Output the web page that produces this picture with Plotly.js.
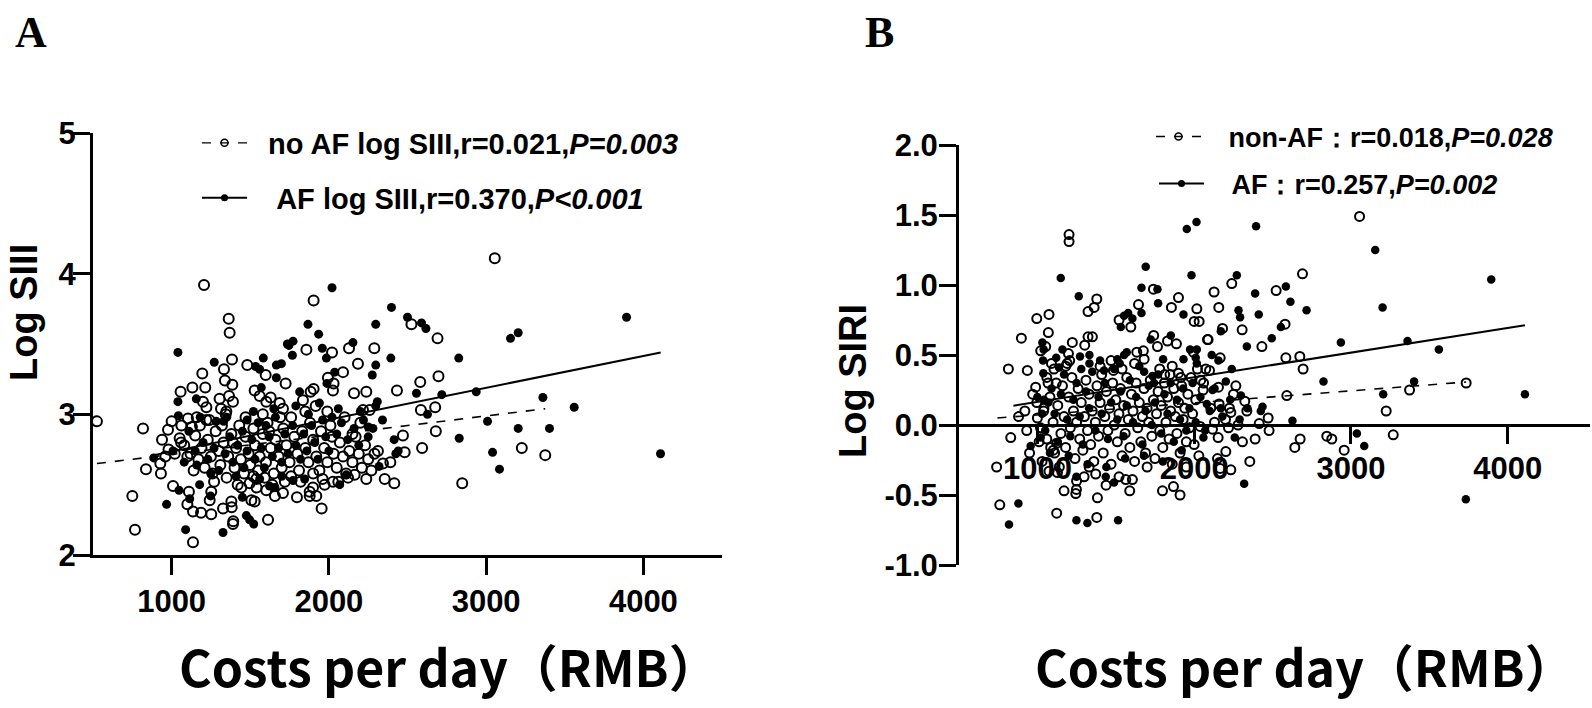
<!DOCTYPE html>
<html>
<head>
<meta charset="utf-8">
<script src="https://cdn.plot.ly/plotly-3.0.1.min.js"></script>
<style>
  html, body { margin: 0; padding: 0; background: #fff; }
  #chart { width: 1592px; height: 708px; }
</style>
</head>
<body>
<div id="chart"></div>
<script>
// Panel A: costs per day vs log SIII, [cost, value]
const aNoAF = [
  [1206,3.92],[1903,3.81],[1363,3.68],[1369,3.58],[1857,3.46],[2020,3.44],[2128,3.47],[2289,3.47],[1384,3.39],[1481,3.35],
  [1598,3.28],[1725,3.22],[1195,3.29],[1333,3.32],[1339,3.24],[1386,3.21],[1214,3.19],[2185,3.36],[2090,3.30],[1994,3.26],
  [2030,3.22],[2026,3.17],[1057,3.16],[1132,3.19],[1199,3.09],[1221,3.05],[1305,3.11],[1365,3.13],[1390,3.09],[1314,3.04],
  [1348,3.02],[2160,3.15],[2238,3.16],[2433,3.17],[1528,3.17],[1560,3.13],[1630,3.12],[1602,3.09],[1687,3.08],[1708,3.04],
  [1835,3.10],[1884,3.16],[1903,3.18],[1916,3.06],[2259,3.03],[2217,3.03],[1000,2.95],[977,2.89],[818,2.90],[939,2.82],
  [1051,2.83],[1062,2.92],[1104,2.97],[1129,2.91],[1221,2.96],[1344,3.00],[525,2.95],[837,2.61],[928,2.65],[932,2.58],
  [750,2.42],[767,2.18],[1136,2.09],[1009,2.49],[1110,2.45],[1100,2.36],[1252,2.45],[1242,2.39],[1136,2.31],[1187,2.30],
  [1252,2.29],[1327,2.33],[1380,2.38],[1382,2.34],[1392,2.24],[1390,2.22],[1613,2.25],[1507,2.39],[1528,2.38],[1443,2.48],
  [1496,2.51],[1539,2.54],[1592,2.55],[1602,2.46],[1657,2.42],[1708,2.44],[1797,2.41],[1878,2.42],[1920,2.42],[1954,2.33],
  [1899,2.48],[1878,2.45],[1973,2.50],[2026,2.52],[2122,2.55],[2164,2.57],[2238,2.54],[2355,2.54],[2416,2.51],[2344,2.65],
  [2391,2.66],[2312,2.74],[2482,2.73],[2471,2.85],
  [3055,4.11],[2525,3.64],[2691,3.54],[2697,3.27],[2581,3.23],[2585,3.03],[2676,3.05],[2680,2.88],[2593,2.76],[3227,2.76],
  [3376,2.71],[2848,2.51],
  [1080,2.78],[1120,2.72],[1150,2.85],[1170,2.68],[1190,2.76],[1210,2.62],[1230,2.82],[1250,2.70],[1260,2.58],[1280,2.88],
  [1300,2.74],[1310,2.64],[1330,2.80],[1350,2.55],[1360,2.70],[1380,2.86],[1400,2.62],[1410,2.76],[1430,2.92],[1440,2.68],
  [1460,2.58],[1470,2.84],[1490,2.72],[1500,2.64],[1520,2.90],[1530,2.78],[1550,2.60],[1560,2.70],[1580,2.86],[1600,2.66],
  [1610,2.94],[1630,2.76],[1650,2.58],[1660,2.82],[1680,2.70],[1700,2.62],[1710,2.90],[1730,2.78],[1750,2.66],[1760,2.98],
  [1780,2.84],[1800,2.72],[1810,2.60],[1830,2.88],[1850,2.76],[1870,2.66],[1880,2.94],[1900,2.82],[1920,2.70],[1940,2.60],
  [1950,2.88],[1970,2.76],[1990,2.66],[2010,2.92],[2030,2.72],[2050,2.62],[2070,2.80],[2090,2.70],[2110,2.58],[2130,2.74],
  [2150,2.66],[2170,2.84],[2190,2.72],[2210,2.62],[2230,2.78],[2250,2.68],[2270,2.60],[2290,2.72],[1180,2.92],[1240,2.96],
  [1320,2.92],[1270,2.52],[1420,2.50],[1540,2.48],[1640,2.50],[1720,2.52],[1820,2.52],[1960,2.54],[2060,2.52],[1470,2.98],
  [1580,3.00],[1690,2.98],[1850,3.02],[1990,3.02],[2100,2.98],[2200,2.94],[1140,2.60],[1100,2.70],[1060,2.80],[1020,2.72],
  [980,2.75],[960,2.70],[1160,2.98],[1390,2.80],[1520,2.56],[1620,2.88],[1760,2.56],[1900,2.58],[2020,2.84],[2150,2.86]
];
const aAF = [
  [2020,3.90],[1867,3.64],[1935,3.57],[2298,3.64],[1736,3.50],[1772,3.52],[1746,3.49],[1768,3.42],[1958,3.47],[1984,3.40],
  [2153,3.51],[1040,3.44],[1271,3.37],[1583,3.40],[1534,3.34],[1560,3.32],[1666,3.35],[1698,3.36],[1666,3.26],[2298,3.35],
  [2276,3.28],[2037,3.30],[1988,3.22],[1040,3.09],[1157,3.11],[1570,3.19],[1814,3.16],[2308,3.09],[2298,3.06],[1043,2.99],
  [1182,2.98],[1284,2.95],[1331,2.95],[886,2.69],[1009,2.74],[968,2.36],[1047,2.46],[1115,2.40],[1178,2.50],[1248,2.42],
  [1327,2.16],[1089,2.18],[1475,2.28],[1496,2.25],[1522,2.22],[1450,2.41],[1623,2.49],[1657,2.48],[1772,2.53],[1846,2.54],
  [2069,2.50],[2111,2.57],[2319,2.63],[2251,2.91],
  [2398,3.76],[2500,3.69],[2589,3.65],[2617,3.61],[3155,3.54],[3204,3.58],[3893,3.69],[2394,3.40],[2826,3.40],[2557,3.15],
  [2718,3.14],[2937,3.16],[3361,3.12],[3560,3.05],[2627,3.00],[2341,2.96],[3009,2.95],[3204,2.90],[3403,2.90],[2415,2.82],
  [2829,2.83],[2441,2.74],[2426,2.72],[3041,2.73],[4109,2.72],[3085,2.61],
  [1110,2.88],[1160,2.64],[1200,2.80],[1230,2.68],[1270,2.76],[1300,2.60],[1340,2.72],[1370,2.84],[1390,2.66],[1420,2.78],
  [1450,2.88],[1460,2.62],[1480,2.74],[1510,2.82],[1530,2.68],[1550,2.94],[1570,2.76],[1590,2.62],[1620,2.84],[1640,2.70],
  [1660,2.98],[1680,2.76],[1700,2.66],[1720,2.86],[1740,2.72],[1770,2.92],[1790,2.78],[1820,2.68],[1840,2.86],[1860,2.74],
  [1890,2.92],[1910,2.80],[1930,2.68],[1960,2.96],[1980,2.84],[2000,2.74],[2020,2.98],[2050,2.86],[2080,2.94],[2120,2.82],
  [2160,2.90],[2190,2.78],[2220,2.96],[2250,2.84],[2280,2.90],[1520,3.02],[1650,3.04],[1790,3.06],[1940,3.08],[1410,2.56],
  [1560,2.54],[1700,2.56],[1250,2.58],[1150,2.74],[1080,2.66],[1480,2.96],[1600,2.92],[1350,2.98],[1870,3.00],[2060,3.04],
  [2200,3.02]
];
// regression line end points
const aFitNoAF = [[525,2.65],[3376,3.04]];
const aFitAF = [[886,2.71],[4110,3.44]];

// Panel B: costs per day vs log SIRI
const bNonAF = [
  [815,0.40],[760,-0.57],[740,-0.30],[830,-0.09],[898,0.62],[936,0.39],[932,-0.04],[996,0.76],[1074,0.79],[1070,0.66],
  [1053,0.56],[1021,0.53],[1106,0.40],[1068,0.30],[989,0.27],[996,0.16],[1042,0.12],[1011,-0.12],[1085,-0.16],[1102,-0.18],
  [1123,-0.13],[1074,-0.33],[1128,-0.34],[1123,-0.63],[1379,-0.66],[1170,-0.47],[1249,-0.46],[1245,-0.49],[1383,-0.52],[1298,-0.37],
  [1372,-0.35],[1521,-0.37],[1564,-0.39],[1606,-0.39],[1589,-0.47],[1438,-0.43],[1798,-0.47],[1868,-0.44],[1910,-0.50],[1202,1.36],
  [1202,1.31],[1379,0.90],[1362,0.84],[1323,0.81],[1740,0.97],[1855,0.84],[1900,0.91],[2017,0.83],[2000,0.74],[2032,0.74],
  [1645,0.86],[1521,0.75],[1596,0.70],[1323,0.63],[1351,0.63],[1223,0.59],[1302,0.57],[1198,0.51],[1206,0.46],[1181,0.42],
  [1742,0.64],[1830,0.60],[1887,0.58],[1766,0.56],[1634,0.52],[1676,0.53],[1681,0.47],[1995,0.52],[2085,0.61],[1485,0.39],
  [1812,0.36],[1846,0.36],[1900,0.37],[1915,0.34],[2021,0.40],[2074,0.40],
  [3055,1.49],[2691,1.08],[2240,1.01],[2127,0.95],[2523,0.96],[2157,0.84],[2181,0.69],[2306,0.68],[2580,0.72],[2089,0.61],
  [2432,0.56],[2166,0.48],[2098,0.39],[2585,0.48],[2674,0.49],[2695,0.40],[2042,0.32],[2266,0.28],[2155,0.27],[2057,0.25],
  [2251,0.22],[2323,0.17],[3374,0.25],[3735,0.30],[2591,0.21],[3225,0.10],[2106,0.12],[2159,0.15],[2225,0.12],[2234,0.09],
  [2336,0.10],[2472,0.05],[2415,0.01],[2478,-0.04],[2219,-0.02],[2038,-0.01],[2117,-0.03],[2153,-0.09],[2308,-0.12],[2389,-0.10],
  [2202,-0.19],[2149,-0.24],[2676,-0.10],[2642,-0.16],[2846,-0.08],[2878,-0.10],[2957,-0.18],[3270,-0.07],[2355,-0.26],[2234,-0.32],
  [2166,-0.31],
  [1000,0.05],[1020,-0.02],[1040,0.10],[1060,-0.10],[1080,0.20],[1100,0.02],[1110,-0.20],[1130,0.14],[1150,-0.06],[1160,0.28],
  [1170,0.06],[1180,-0.16],[1200,0.20],[1210,-0.02],[1220,0.34],[1230,0.10],[1240,-0.24],[1250,0.02],[1260,0.26],[1270,-0.10],
  [1280,0.16],[1290,-0.18],[1300,0.06],[1310,0.32],[1320,-0.04],[1330,0.22],[1340,-0.14],[1350,0.10],[1360,-0.26],[1370,0.02],
  [1380,0.28],[1390,-0.08],[1400,0.16],[1410,0.36],[1420,-0.20],[1430,0.06],[1440,0.24],[1450,-0.04],[1460,0.12],[1470,-0.28],
  [1480,0.30],[1490,0.00],[1500,0.18],[1510,-0.12],[1520,0.08],[1530,0.26],[1540,-0.22],[1550,0.14],[1560,-0.06],[1570,0.34],
  [1580,0.04],[1590,-0.16],[1600,0.22],[1610,0.10],[1620,-0.26],[1630,0.30],[1640,-0.02],[1650,0.16],[1660,-0.12],[1670,0.06],
  [1680,0.26],[1690,-0.20],[1700,0.12],[1710,0.02],[1720,0.32],[1730,-0.08],[1740,0.18],[1750,-0.24],[1760,0.08],[1770,0.24],
  [1780,-0.04],[1790,0.14],[1800,-0.16],[1810,0.30],[1820,0.02],[1830,0.20],[1840,-0.10],[1850,0.10],[1860,-0.28],[1870,0.26],
  [1880,0.06],[1890,-0.06],[1900,0.16],[1910,-0.20],[1920,0.28],[1930,0.04],[1940,0.12],[1950,-0.12],[1960,0.22],[1970,-0.02],
  [1980,0.34],[1990,0.08],[2000,-0.14],[2010,0.18],[1060,0.34],[1090,0.44],[1140,-0.30],[1190,0.44],[1250,-0.40],[1330,-0.30],
  [1400,0.42],[1470,0.46],[1540,0.40],[1620,0.44],[1700,-0.30],[1780,0.40],[1860,0.42],[1950,-0.30],[2030,-0.22],[2060,0.30],
  [2130,0.02],[2200,0.04],[2280,0.00],[920,0.10],[950,-0.20],[970,0.22],[880,0.06],[1030,-0.26],[1120,0.30]
];
const bAF = [
  [879,-0.56],[819,-0.71],[957,-0.15],[1032,0.59],[1036,0.46],[1038,0.37],[1042,0.18],[1021,-0.09],[1249,-0.68],[1319,-0.70],
  [1515,-0.68],[1249,-0.37],[1436,-0.37],[1489,-0.41],[1149,1.05],[1264,0.92],[1691,1.13],[1664,0.98],[1766,0.97],[1770,0.87],
  [1953,1.40],[2015,1.45],[1983,1.07],[1932,0.79],[1553,0.78],[1579,0.80],[1606,0.76],[1664,0.80],[1532,0.70],[1160,0.54],
  [1332,0.50],[1272,0.49],[1332,0.44],[1138,0.41],[1723,0.61],[1851,0.64],[1932,0.47],[1802,0.47],[1570,0.52],[1553,0.50],
  [1510,0.47],[1525,0.44],[1974,0.54],[2017,0.54],[2010,0.48],[2017,0.44],[1425,0.39],[1681,0.38],[1744,0.30],[1734,0.35],
  [2395,1.42],[3155,1.25],[3895,1.04],[2272,1.07],[2389,0.94],[2585,0.99],[2614,0.88],[2717,0.82],[3202,0.84],[2283,0.82],
  [2293,0.77],[2412,0.79],[2170,0.67],[2553,0.70],[2495,0.62],[2336,0.56],[2936,0.59],[3361,0.60],[3561,0.54],[2112,0.50],
  [2155,0.46],[2240,0.40],[2202,0.31],[2117,0.25],[2298,0.21],[2825,0.31],[3403,0.31],[3206,0.22],[4110,0.22],[2081,0.15],
  [2170,0.12],[2436,0.13],[2425,0.10],[2627,0.03],[2059,-0.09],[2259,-0.09],[3038,-0.06],[3085,-0.15],[2319,-0.42],[3733,-0.53],
  [1000,0.20],[1030,0.08],[1050,-0.04],[1070,0.16],[1090,0.26],[1110,0.08],[1130,-0.12],[1150,0.22],[1170,0.36],[1190,0.04],
  [1210,-0.08],[1230,0.18],[1250,0.30],[1270,0.06],[1290,-0.14],[1310,0.24],[1330,0.12],[1350,0.38],[1370,-0.04],[1390,0.20],
  [1410,0.08],[1430,0.30],[1450,-0.10],[1470,0.16],[1490,0.40],[1510,0.04],[1530,0.24],[1550,-0.08],[1570,0.14],[1590,0.32],
  [1610,0.02],[1630,0.20],[1650,0.42],[1670,-0.14],[1690,0.10],[1710,0.28],[1730,0.00],[1750,0.16],[1770,0.36],[1790,-0.06],
  [1810,0.22],[1830,0.08],[1850,0.30],[1870,-0.12],[1890,0.18],[1910,0.04],[1930,0.26],[1950,-0.04],[1970,0.12],[1990,0.30],
  [2010,0.02],[2040,0.20],[2070,-0.04],[2100,0.10],[2130,0.26],[2180,0.06],[2230,0.18],[2290,0.04],[2340,0.12],[1080,-0.20],
  [1200,-0.22],[1320,-0.28],[1440,-0.30],[1560,-0.24],[1680,-0.22],[1800,-0.26],[1920,-0.18],[1040,0.54],[1120,0.48],[1280,0.40],
  [1400,0.46]
];
const bFitNonAF = [[745,0.05],[3735,0.307]];
const bFitAF = [[847,0.138],[4110,0.712]];

const xTicks = [1000, 2000, 3000, 4000];
const aYTicks = [2, 3, 4, 5];
const bYTicks = [-1, -0.5, 0, 0.5, 1, 1.5, 2];
const bYTickText = ['-1.0', '-0.5', '0.0', '0.5', '1.0', '1.5', '2.0'];

const gap = '\u00a0\u00a0';
const legendText = {
  aNoAF: gap + 'no AF log SIII,r=0.021,<i>P=0.003</i>',
  aAF: gap + '\u00a0AF log SIII,r=0.370,<i>P<0.001</i>',
  bNonAF: gap + '\u00a0non-AF\uff1ar=0.018,<i>P=0.028</i>',
  bAF: gap + '\u00a0AF\uff1ar=0.257,<i>P=0.002</i>'
};

const xs = (pts) => pts.map((p) => p[0]);
const ys = (pts) => pts.map((p) => p[1]);

const openDots = (pts, xa, ya, size) => ({
  x: xs(pts), y: ys(pts), xaxis: xa, yaxis: ya,
  type: 'scatter', mode: 'markers', showlegend: false, hoverinfo: 'skip',
  marker: {symbol: 'circle-open', size: size, color: '#000', line: {width: 2, color: '#000'}}
});
const fullDots = (pts, xa, ya, size) => ({
  x: xs(pts), y: ys(pts), xaxis: xa, yaxis: ya,
  type: 'scatter', mode: 'markers', showlegend: false, hoverinfo: 'skip',
  marker: {symbol: 'circle', size: size, color: '#000'}
});
const fitLine = (pts, xa, ya, dash) => ({
  x: xs(pts), y: ys(pts), xaxis: xa, yaxis: ya,
  type: 'scatter', mode: 'lines', showlegend: false, hoverinfo: 'skip',
  line: {color: '#000', width: dash ? 1.6 : 2, dash: dash ? 'dash' : 'solid'}
});
// legend-only entries (no data drawn)
const legendItem = (name, legend, xa, ya, dash) => ({
  x: [null], y: [null], xaxis: xa, yaxis: ya, name: name, legend: legend,
  type: 'scatter', mode: 'lines+markers',
  line: {color: '#000', width: dash ? 1.4 : 2, dash: dash ? 'dash' : 'solid'},
  marker: dash ? {symbol: 'circle-open', size: 7, color: '#000', line: {width: 1.5}}
               : {symbol: 'circle', size: 7, color: '#000'}
});

const data = [
  openDots(aNoAF, 'x', 'y', 10),
  fullDots(aAF, 'x', 'y', 9),
  fitLine(aFitNoAF, 'x', 'y', true),
  fitLine(aFitAF, 'x', 'y', false),
  openDots(bNonAF, 'x2', 'y2', 9),
  fullDots(bAF, 'x2', 'y2', 8.5),
  fitLine(bFitNonAF, 'x2', 'y2', true),
  fitLine(bFitAF, 'x2', 'y2', false),
  legendItem(legendText.aNoAF, 'legend', 'x', 'y', true),
  legendItem(legendText.aAF, 'legend2', 'x', 'y', false),
  legendItem(legendText.bNonAF, 'legend3', 'x2', 'y2', true),
  legendItem(legendText.bAF, 'legend4', 'x2', 'y2', false)
];

const sans = 'Liberation Sans, Arial, sans-serif';
const tickFontA = {family: sans, size: 31, color: '#000', weight: 'bold'};
const tickFontB = {family: sans, size: 31, color: '#000', weight: 'bold'};
const legendFontA = {family: sans, size: 29, color: '#000', weight: 'bold'};
const legendFontB = {family: sans, size: 27, color: '#000', weight: 'bold'};
const titleFont = {family: sans, size: 38, color: '#000', weight: 'bold'};
const xTitleFont = {family: 'Noto Sans CJK SC, sans-serif', size: 50, color: '#000', weight: 'bold'};
const letterFont = {family: 'Liberation Serif, Times New Roman, serif', size: 44, color: '#000', weight: 'bold'};

const axisBase = {
  showgrid: false, zeroline: false, showline: true, linecolor: '#000', linewidth: 3,
  ticks: 'outside', ticklen: 17, tickwidth: 3, tickcolor: '#000', fixedrange: true
};

const legendBase = (x, y, font) => ({
  x: x, y: y, xanchor: 'left', yanchor: 'middle', bgcolor: 'rgba(0,0,0,0)',
  borderwidth: 0, font: font, itemwidth: 45
});

const px = (v) => v / 1592;
const py = (v) => 1 - v / 708;

const note = (text, x, y, font, extra) => Object.assign({
  text: text, x: px(x), y: py(y), xref: 'paper', yref: 'paper',
  xanchor: 'center', yanchor: 'middle', showarrow: false, font: font
}, extra || {});

const layout = {
  width: 1592, height: 708,
  margin: {l: 0, r: 0, t: 0, b: 0},
  paper_bgcolor: '#fff', plot_bgcolor: 'rgba(0,0,0,0)',
  xaxis: Object.assign({}, axisBase, {
    domain: [px(93), px(722)], range: [500, 4500], tickvals: xTicks,
    anchor: 'y', tickfont: tickFontA, ticklabelstandoff: 0
  }),
  yaxis: Object.assign({}, axisBase, {
    domain: [1 - 555 / 708, 1 - 133 / 708], range: [2, 5], tickvals: aYTicks,
    anchor: 'x', tickfont: tickFontA, ticklabelstandoff: -9
  }),
  xaxis2: Object.assign({}, axisBase, {
    domain: [px(959), px(1590)], range: [500, 4525], tickvals: xTicks,
    anchor: 'free', position: 1 - 425 / 708, tickfont: tickFontB,
    layer: 'below traces', ticklabelstandoff: -2
  }),
  yaxis2: Object.assign({}, axisBase, {
    domain: [1 - 565 / 708, 1 - 145 / 708], range: [-1, 2], tickvals: bYTicks,
    ticktext: bYTickText, anchor: 'x2', tickfont: tickFontB, ticklabelstandoff: -5
  }),
  legend: legendBase(px(197), py(143), legendFontA),
  legend2: legendBase(px(197), py(198), legendFontA),
  legend3: legendBase(px(1151), py(137), legendFontB),
  legend4: legendBase(px(1154), py(184), legendFontB),
  annotations: [
    note('A', 13, 32, letterFont, {xanchor: 'left'}),
    note('B', 863, 32, letterFont, {xanchor: 'left'}),
    note('Log SIII', 24, 313, titleFont, {textangle: -90}),
    note('Log SIRI', 853, 381, titleFont, {textangle: -90}),
    note('Costs per day\uff08RMB\uff09', 449, 665, xTitleFont),
    note('Costs per day\uff08RMB\uff09', 1305, 665, xTitleFont)
  ]
};

Plotly.newPlot(document.getElementById('chart'), data, layout, {displayModeBar: false, staticPlot: true});
</script>
</body>
</html>
